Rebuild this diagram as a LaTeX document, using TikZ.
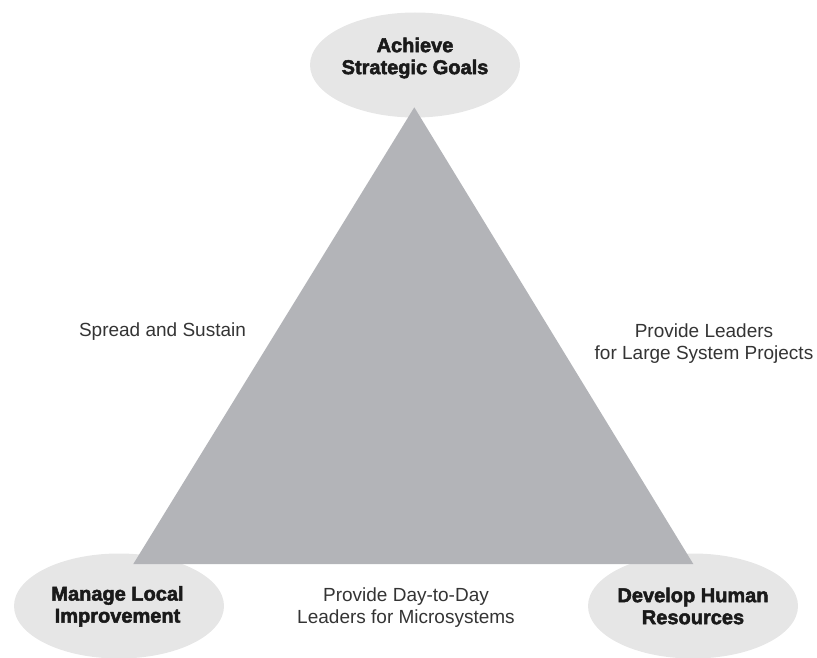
\documentclass[tikz,border=0pt]{standalone}
\usepackage{fontspec}
\setmainfont{Liberation Sans}
\newfontfamily\heavyfont{Liberation Sans}[BoldFeatures={FakeBold=2.4}]
\usetikzlibrary{shapes.geometric}
\definecolor{trigray}{RGB}{179,180,184}
\definecolor{ellgray}{RGB}{230,230,230}
\definecolor{labtext}{RGB}{52,52,52}
\definecolor{headtext}{RGB}{26,26,26}
\tikzset{
  goal/.style={ellipse, fill=ellgray, draw=none, inner sep=0pt,
    minimum width=210bp, minimum height=105bp},
  goaltext/.style={inner sep=0pt, align=center, text=headtext,
    font=\heavyfont\bfseries\fontsize{20bp}{22bp}\selectfont},
  edgelabel/.style={inner sep=0pt, align=center, text=labtext,
    font=\fontsize{19bp}{21.5bp}\selectfont}
}
\begin{document}
\begin{tikzpicture}[x=1bp, y=-1bp]
  \useasboundingbox (0,0) rectangle (817,658);
  % ellipses
  \node[goal] (top) at (415,65) {};
  \node[goal] (left) at (119,606) {};
  \node[goal] (right) at (693,606) {};
  % triangle
  \coordinate (apex) at (414.3,107.3);
  \coordinate (bl) at (133.3,564);
  \coordinate (br) at (693.3,564);
  \fill[trigray] (apex) -- (bl) -- (br) -- cycle;
  % ellipse texts
  \node[goaltext] (toptext) at (415,58) {Achieve\\Strategic Goals};
  \node[goaltext] (lefttext) at (117.5,606.4) {Manage Local\\Improvement};
  \node[goaltext] (righttext) at (693,606) {Develop Human\\Resources};
  % edge labels
  \node[edgelabel, anchor=base] (spread) at (162.5,336) {Spread and Sustain};
  \node[edgelabel] (large) at (704,343.5) {Provide Leaders\\for Large System Projects};
  \node[edgelabel] (micro) at (406,607.5) {Provide Day-to-Day\\Leaders for Microsystems};
\end{tikzpicture}
\end{document}
